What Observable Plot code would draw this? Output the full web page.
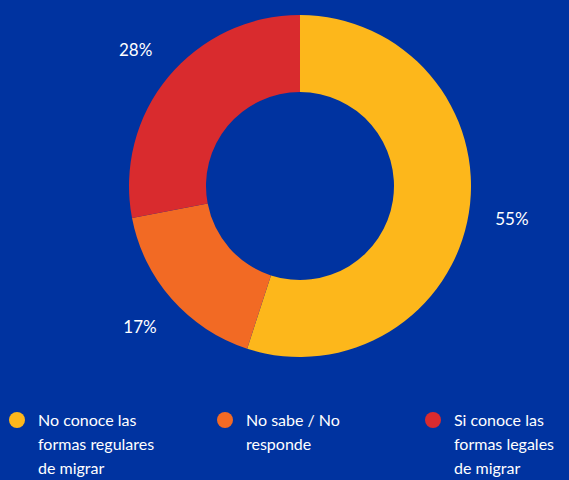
<!DOCTYPE html>
<html>
<head>
<meta charset="utf-8">
<script src="https://cdn.jsdelivr.net/npm/d3@7"></script>
<script src="https://cdn.jsdelivr.net/npm/@observablehq/plot@0.6"></script>
<style>
  html, body { margin: 0; padding: 0; background: #0033A0; overflow: hidden; }
  body { width: 569px; height: 480px; font-family: Lato, "Open Sans", sans-serif; }
  #legend { position: relative; height: 90px; color: #fff; font-size: 16px; line-height: 24px; }
  .item { position: absolute; top: 18px; width: 208px; }
  .sw { position: absolute; left: 1px; top: 4px; width: 16px; height: 16px; border-radius: 50%; }
  .txt { position: absolute; left: 30px; top: 0; white-space: pre; }
</style>
</head>
<body>
<div id="chart"></div>
<div id="legend"></div>
<script>
const categories = ["No conoce las formas regulares de migrar", "No sabe / No responde", "Si conoce las formas legales de migrar"];
const values = [55, 17, 28];
const valueLabels = ["55%", "17%", "28%"];
const legendLines = [["No conoce las", "formas regulares", "de migrar"], ["No sabe / No", "responde"], ["Si conoce las", "formas legales", "de migrar"]];
const colors = ["#FDB71B", "#F26A24", "#D92B2E"];

const W = 569, H = 390, cx = 300, cy = 186, rOuter = 171, rInner = 94, rLabel = 214;
const color = Plot.scale({color: {type: "ordinal", domain: categories, range: colors}});

const data = categories.map((c, i) => ({cat: c, value: values[i], label: valueLabels[i]}));
const arcs = d3.pie().sort(null).value(d => d.value)(data);
const labels = arcs.map(a => {
  const m = (a.startAngle + a.endAngle) / 2;
  return {label: a.data.label, x: cx + rLabel * Math.sin(m), y: cy - rLabel * Math.cos(m)};
});

const plot = Plot.plot({
  width: W, height: H,
  margin: 0,
  x: {type: "identity", axis: null},
  y: {type: "identity", axis: null},
  style: {background: "#0033A0", fontFamily: "Lato, 'Open Sans', sans-serif"},
  marks: [
    () => {
      const g = d3.create("svg:g").attr("transform", `translate(${cx},${cy})`);
      const arc = d3.arc().innerRadius(rInner).outerRadius(rOuter);
      g.selectAll("path").data(arcs).join("path")
        .attr("d", arc)
        .attr("fill", d => color.apply(d.data.cat));
      return g.node();
    },
    Plot.text(labels, {x: "x", y: "y", text: "label", fill: "white", fontSize: 17})
  ]
});
document.getElementById("chart").appendChild(plot);

const legend = d3.select("#legend");
categories.forEach((c, i) => {
  const it = legend.append("div").attr("class", "item").style("left", (8 + i * 208) + "px");
  it.append("div").attr("class", "sw").style("background", color.apply(c));
  it.append("div").attr("class", "txt").text(legendLines[i].join("\n"));
});
</script>
</body>
</html>
